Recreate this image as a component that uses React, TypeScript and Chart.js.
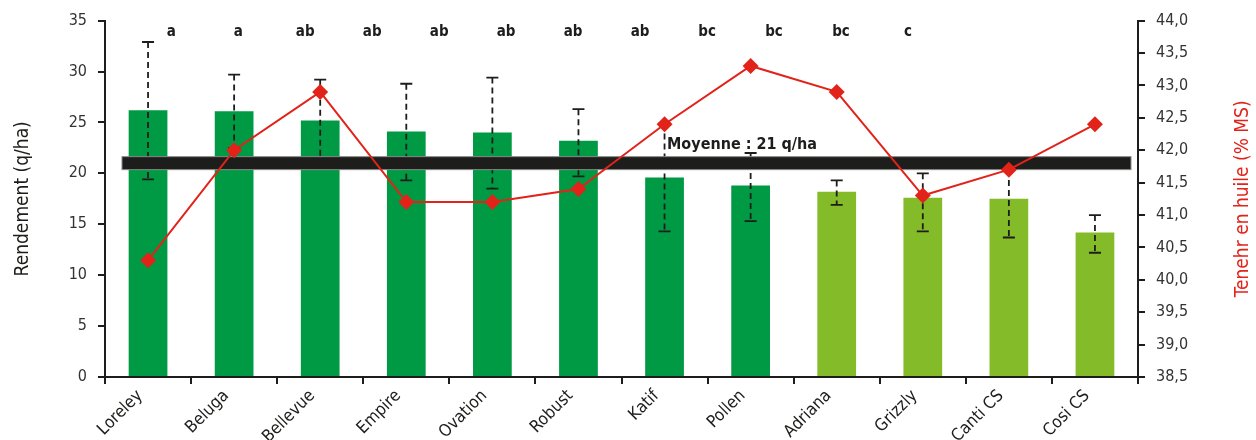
import { useEffect, useRef } from 'react';
import { Chart, registerables } from 'chart.js';

Chart.register(...registerables);

const CATEGORIES = ['Loreley', 'Beluga', 'Bellevue', 'Empire', 'Ovation', 'Robust', 'Katif', 'Pollen', 'Adriana', 'Grizzly', 'Canti CS', 'Cosi CS'];
const YIELD = [26.2, 26.1, 25.2, 24.1, 24.0, 23.2, 19.6, 18.8, 18.2, 17.6, 17.5, 14.2];
const ERR_HIGH = [32.9, 29.7, 29.2, 28.8, 29.4, 26.3, 24.9, 22.0, 19.3, 20.0, 21.3, 15.9];
const ERR_LOW = [19.4, 22.5, 21.5, 19.3, 18.5, 19.7, 14.3, 15.3, 16.9, 14.3, 13.7, 12.2];
const OIL = [40.3, 42.0, 42.9, 41.2, 41.2, 41.4, 42.4, 43.3, 42.9, 41.3, 41.7, 42.4];
const GROUPS = ['a', 'a', 'ab', 'ab', 'ab', 'ab', 'ab', 'ab', 'bc', 'bc', 'bc', 'c'];
const BAR_KIND = ['dark', 'dark', 'dark', 'dark', 'dark', 'dark', 'dark', 'dark', 'light', 'light', 'light', 'light'];
const MEAN = 21;
const MEAN_LABEL = 'Moyenne : 21 q/ha';
const LEFT_TITLE = 'Rendement (q/ha)';
const RIGHT_TITLE = 'Tenehr en huile (% MS)';

const FONT = "'Liberation Sans Narrow', 'DejaVu Sans Condensed', 'Arial Narrow', sans-serif";
const DARK_GREEN = '#009a44';
const LIGHT_GREEN = '#84bb29';
const RED = '#e2231a';
const INK = '#1d1d1b';

const overlay = {
  id: 'overlay',
  afterDatasetDraw(chart: any, args: any) {
    if (args.index !== 0) return;
    const ctx = chart.ctx;
    const x = chart.scales.x;
    const y = chart.scales.y;
    const area = chart.chartArea;
    ctx.save();
    // error bars
    ctx.strokeStyle = INK;
    ctx.lineWidth = 1.8;
    for (let i = 0; i < CATEGORIES.length; i++) {
      const cx = x.getPixelForValue(i);
      const yh = y.getPixelForValue(ERR_HIGH[i]);
      const yl = y.getPixelForValue(ERR_LOW[i]);
      ctx.setLineDash([6, 4]);
      ctx.beginPath();
      ctx.moveTo(cx, yh);
      ctx.lineTo(cx, yl);
      ctx.stroke();
      ctx.setLineDash([]);
      ctx.beginPath();
      ctx.moveTo(cx - 6, yh);
      ctx.lineTo(cx + 6, yh);
      ctx.moveTo(cx - 6, yl);
      ctx.lineTo(cx + 6, yl);
      ctx.stroke();
    }
    // mean band
    const my = y.getPixelForValue(MEAN);
    const x0 = area.left + 17;
    const x1 = area.right - 7;
    ctx.fillStyle = INK;
    ctx.fillRect(x0, my - 6.5, x1 - x0, 13);
    ctx.strokeStyle = '#8a8a8a';
    ctx.lineWidth = 1;
    ctx.strokeRect(x0, my - 6.5, x1 - x0, 13);
    // mean label
    ctx.fillStyle = INK;
    ctx.font = `bold 16px ${FONT}`;
    ctx.textAlign = 'center';
    ctx.textBaseline = 'alphabetic';
    ctx.fillText(MEAN_LABEL, x.getPixelForValue(6.9), my - 14);
    ctx.restore();
  },
  afterDraw(chart: any) {
    const ctx = chart.ctx;
    const x = chart.scales.x;
    const area = chart.chartArea;
    const step = x.getPixelForValue(1) - x.getPixelForValue(0);
    ctx.save();
    ctx.fillStyle = INK;
    ctx.font = `bold 15px ${FONT}`;
    ctx.textAlign = 'center';
    ctx.textBaseline = 'middle';
    for (let i = 0; i < GROUPS.length; i++) {
      const gx = x.getPixelForValue(0) + (0.27 + i * 0.778) * step;
      ctx.fillText(GROUPS[i], gx, area.top + 12);
    }
    // right title (reads bottom to top)
    ctx.fillStyle = RED;
    ctx.font = `19px ${FONT}`;
    ctx.translate(chart.width - 13, (area.top + area.bottom) / 2);
    ctx.rotate(-Math.PI / 2);
    ctx.textAlign = 'center';
    ctx.textBaseline = 'middle';
    ctx.fillText(RIGHT_TITLE, 0, 0);
    ctx.restore();
  },
};

export default function App() {
  const ref = useRef<HTMLCanvasElement | null>(null);

  useEffect(() => {
    if (!ref.current) return;
    const chart = new Chart(ref.current, {
      data: {
        labels: CATEGORIES,
        datasets: [
          {
            type: 'bar',
            label: 'Rendement',
            data: YIELD,
            backgroundColor: BAR_KIND.map((k) => (k === 'dark' ? DARK_GREEN : LIGHT_GREEN)),
            barPercentage: 0.45,
            categoryPercentage: 1,
            yAxisID: 'y',
            order: 2,
          },
          {
            type: 'line',
            label: 'Teneur en huile',
            data: OIL,
            borderColor: RED,
            backgroundColor: RED,
            borderWidth: 2,
            pointStyle: 'rectRot',
            pointRadius: 8,
            pointBorderWidth: 0,
            yAxisID: 'y2',
            order: 1,
          },
        ],
      },
      options: {
        responsive: true,
        maintainAspectRatio: false,
        animation: false,
        layout: { padding: { top: 20, left: 0, right: 0, bottom: 0 } },
        plugins: { legend: { display: false }, tooltip: { enabled: false } },
        scales: {
          x: {
            type: 'category',
            offset: true,
            grid: { display: true, offset: true, drawOnChartArea: false, drawTicks: true, tickLength: 7, color: INK, lineWidth: 2 },
            border: { display: true, color: INK, width: 2 },
            ticks: {
              color: INK,
              font: { family: FONT, size: 17 },
              minRotation: 45,
              maxRotation: 45,
              padding: 2,
              labelOffset: -8,
            },
            afterFit(scale: any) { scale.height = 63; },
          },
          y: {
            type: 'linear',
            position: 'left',
            min: 0,
            max: 35,
            ticks: { stepSize: 5, color: '#333', font: { family: FONT, size: 16 }, padding: 11 },
            grid: { display: true, drawOnChartArea: false, drawTicks: true, tickLength: 7, color: INK, lineWidth: 2 },
            border: { display: true, color: INK, width: 2 },
            title: { display: true, text: LEFT_TITLE, color: INK, font: { family: FONT, size: 19 }, padding: { top: 12, bottom: 0 } },
            afterFit(scale: any) { scale.width = 105; },
          },
          y2: {
            type: 'linear',
            position: 'right',
            min: 38.5,
            max: 44,
            ticks: {
              stepSize: 0.5,
              color: '#333',
              font: { family: FONT, size: 16 },
              padding: 11,
              callback: (v: any) => Number(v).toFixed(1).replace('.', ','),
            },
            grid: { display: true, drawOnChartArea: false, drawTicks: true, tickLength: 7, color: INK, lineWidth: 2 },
            border: { display: true, color: INK, width: 2 },
            afterFit(scale: any) { scale.width = 118; },
          },
        },
      },
      plugins: [overlay],
    } as any);
    return () => chart.destroy();
  }, []);

  return (
    <div style={{ position: 'fixed', left: 0, top: 0, width: 1256, height: 440, background: '#fff' }}>
      <canvas ref={ref} />
    </div>
  );
}
